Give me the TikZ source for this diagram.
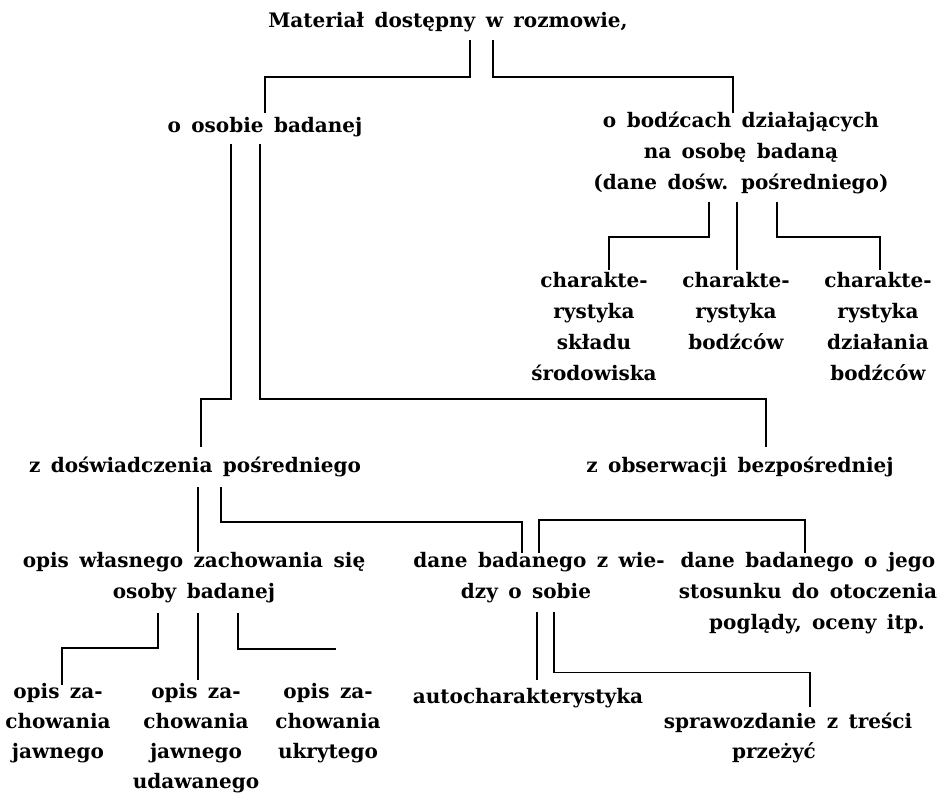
\documentclass[tikz,border=0pt]{standalone}
\usepackage{fontspec}
\setmainfont{DejaVu Serif}[WordSpace={1.5,1.2,0.5}]
\begin{document}
\begin{tikzpicture}[x=1pt,y=-1pt,
  lbl/.style={font=\bfseries\fontsize{20}{31}\selectfont, align=center, inner sep=0pt, anchor=north,
    execute at begin node={\rule{0pt}{20pt}}},
  tight/.style={font=\bfseries\fontsize{20}{30}\selectfont},
  conn/.style={line width=1.3pt}]
\useasboundingbox (0,0) rectangle (945,796);
\fill[white] (0,0) rectangle (945,796);

% nodes (north = first baseline - 20)
\node[lbl] (title) at (448,7) {Materiał dostępny w rozmowie,};
\node[lbl] (osobie) at (265,112) {o osobie badanej};
\node[lbl] (bodz) at (741,112) {o bodźcach działających\\na osobę badaną\\(dane dośw. pośredniego)};
\node[lbl] (ch1) at (594,272) {charakte-\\rystyka\\składu\\środowiska};
\node[lbl] (ch2) at (736,272) {charakte-\\rystyka\\bodźców};
\node[lbl] (ch3) at (878,272) {charakte-\\rystyka\\działania\\bodźców};
\node[lbl] (zdosw) at (195,452) {z doświadczenia pośredniego};
\node[lbl] (zobs) at (740,452) {z obserwacji bezpośredniej};
\node[lbl] (opisw) at (194,552) {opis własnego zachowania się\\osoby badanej};
\node[lbl] (danez) at (539,552) {dane badanego z wie-\\\hspace*{-26pt}dzy o sobie};
\node[lbl] (daneo) at (808,552) {dane badanego o jego\\stosunku do otoczenia\\\hspace*{18pt}poglądy, oceny itp.};
\node[lbl,tight] (op1) at (58,683) {opis za-\\chowania\\jawnego};
\node[lbl,tight] (op2) at (196,683) {opis za-\\chowania\\jawnego\\udawanego};
\node[lbl,tight] (op3) at (328,683) {opis za-\\chowania\\ukrytego};
\node[lbl] (auto) at (528,683) {autocharakterystyka};
\node[lbl,tight] (spraw) at (788,713) {sprawozdanie z treści\\\hspace*{-28pt}przeżyć};

% junction coordinates
\coordinate (t1) at (470,40);  \coordinate (t2) at (493,40);
\coordinate (b1) at (709,202); \coordinate (b2) at (737,202); \coordinate (b3) at (777,202);
\coordinate (o1) at (231,144); \coordinate (o2) at (260,144);
\coordinate (z1) at (198,487); \coordinate (z2) at (221,487);
\coordinate (w1) at (158,613); \coordinate (w2) at (198,613); \coordinate (w3) at (238,613);
\coordinate (d1) at (537,612); \coordinate (d2) at (554,612);

% connectors
\draw[conn] (t1) -- (470,77) -- (265,77) -- (osobie.north |- 0,113);
\draw[conn] (t2) -- (493,77) -- (733,77) -- (733,113);
\draw[conn] (b1) -- (709,237) -- (609,237) -- (609,270);
\draw[conn] (b2) -- (737,270);
\draw[conn] (b3) -- (777,237) -- (880,237) -- (880,270);
\draw[conn] (o1) -- (231,399) -- (201,399) -- (201,447);
\draw[conn] (o2) -- (260,399) -- (766,399) -- (766,447);
\draw[conn] (z1) -- (198,552);
\draw[conn] (z2) -- (221,522) -- (522,522) -- (522,553);
\draw[conn] (539,553) -- (539,520) -- (805,520) -- (805,553);
\draw[conn] (w1) -- (158,648) -- (62,648) -- (62,685);
\draw[conn] (w2) -- (198,680);
\draw[conn] (w3) -- (238,649) -- (336,649);
\draw[conn] (d1) -- (537,680);
\draw[conn] (d2) -- (554,672.5) -- (810,672.5) -- (810,707);
\end{tikzpicture}
\end{document}
